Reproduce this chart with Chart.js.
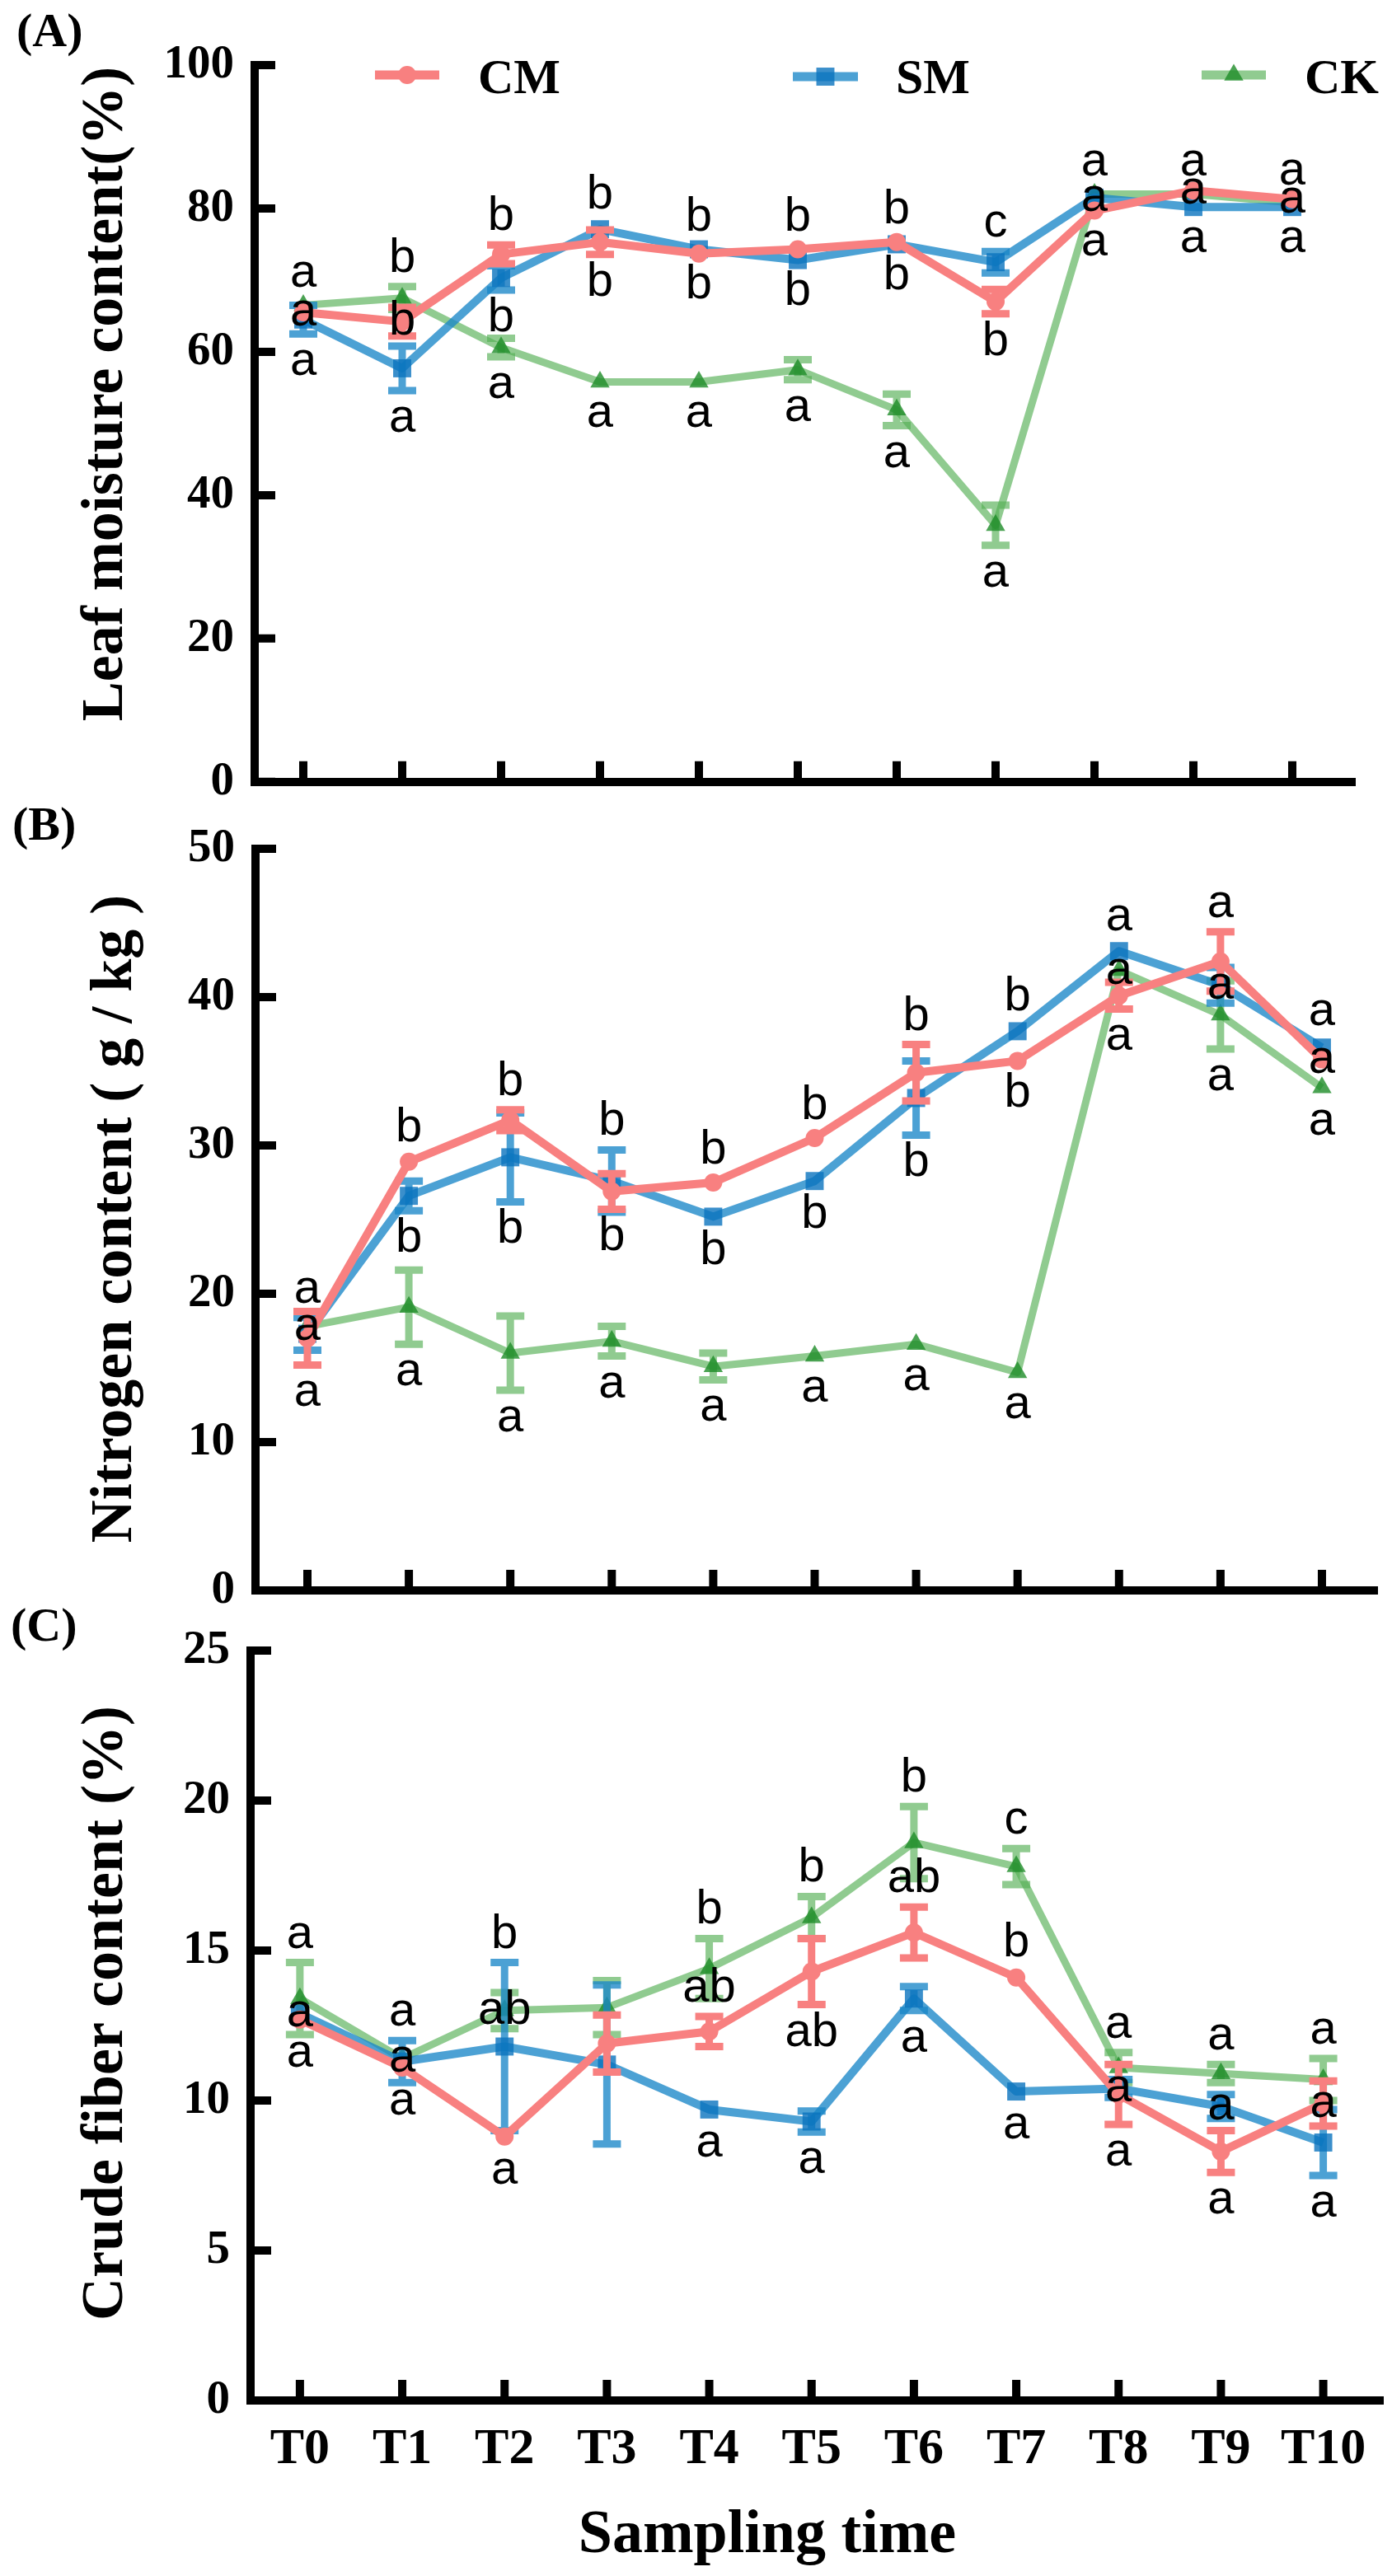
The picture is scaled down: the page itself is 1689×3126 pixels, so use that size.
<!DOCTYPE html>
<html>
<head>
<meta charset="utf-8">
<script src="https://cdn.jsdelivr.net/npm/chart.js@4/dist/chart.umd.min.js"></script>
<style>
  html, body { margin: 0; padding: 0; background: #fff; }
  #wrap { position: relative; width: 1689px; height: 3126px; background: #fff; overflow: hidden; }
  #wrap canvas { position: absolute; left: 0; }
</style>
</head>
<body>
<div id="wrap">
  <canvas id="chartA" width="1689" height="1000" style="top:0px;width:1689px;height:1000px"></canvas>
  <canvas id="chartB" width="1689" height="1030" style="top:960px;width:1689px;height:1030px"></canvas>
  <canvas id="chartC" width="1689" height="1186" style="top:1940px;width:1689px;height:1186px"></canvas>
</div>
<script>
const timePoints = ['T0', 'T1', 'T2', 'T3', 'T4', 'T5', 'T6', 'T7', 'T8', 'T9', 'T10'];
const groups = ['CM', 'SM', 'CK'];

// (A) leaf moisture content (%)
const moistureCM = [65.5, 64.2, 73.6, 75.3, 73.7, 74.3, 75.3, 67.0, 79.7, 82.5, 81.3];
const moistureSM = [64.5, 57.7, 70.3, 77.1, 74.3, 72.8, 75.0, 72.5, 81.5, 80.2, 80.2];
const moistureCK = [66.5, 67.5, 60.6, 55.8, 55.8, 57.5, 51.9, 35.8, 82.0, 82.0, 80.8];
const moistureErrCM = [0.8, 2.0, 1.3, 1.7, 0.5, 0.5, 0.5, 1.7, 0.5, 0.5, 0.5];
const moistureErrSM = [2.0, 3.1, 1.7, 0.8, 0.5, 0.5, 0.5, 1.5, 0.5, 0.5, 0.5];
const moistureErrCK = [0.5, 1.6, 1.3, 0.5, 0.5, 1.4, 2.2, 2.8, 0.5, 0.5, 0.5];
const moistureLetCM = ['a', 'b', 'b', 'b', 'b', 'b', 'b', 'b', 'a', 'a', 'a'];
const moistureLetSM = ['a', 'a', 'b', 'b', 'b', 'b', 'b', 'c', 'a', 'a', 'a'];
const moistureLetCK = ['a', 'b', 'a', 'a', 'a', 'a', 'a', 'a', 'a', 'a', 'a'];
const moistureSideCM = ['c', 'c', 'u', 'd', 'd', 'u', 'u', 'd', 'd', 'c', 'c'];
const moistureSideSM = ['d', 'd', 'd', 'u', 'u', 'd', 'd', 'u', 'c', 'd', 'd'];
const moistureSideCK = ['u', 'u', 'd', 'd', 'd', 'd', 'd', 'd', 'u', 'u', 'u'];

// (B) nitrogen content (g/kg)
const nitrogenCM = [17.0, 28.9, 31.7, 26.9, 27.5, 30.5, 34.9, 35.7, 40.1, 42.4, 35.8];
const nitrogenSM = [17.3, 26.6, 29.2, 27.6, 25.2, 27.6, 33.2, 37.7, 43.1, 40.8, 36.6];
const nitrogenCK = [17.8, 19.1, 16.0, 16.8, 15.1, 15.8, 16.6, 14.7, 41.8, 38.8, 33.9];
const nitrogenErrCM = [1.8, 0.4, 0.7, 1.2, 0.3, 0.3, 1.9, 0.3, 0.9, 2.0, 0.4];
const nitrogenErrSM = [1.1, 1.0, 3.0, 2.1, 0.4, 0.4, 2.5, 0.4, 0.4, 1.2, 0.5];
const nitrogenErrCK = [0.3, 2.5, 2.5, 1.0, 0.9, 0.3, 0.3, 0.3, 0.4, 2.3, 0.4];
const nitrogenLetCM = ['a', 'b', 'b', 'b', 'b', 'b', 'b', 'b', 'a', 'a', 'a'];
const nitrogenLetSM = ['a', 'b', 'b', 'b', 'b', 'b', 'b', 'b', 'a', 'a', 'a'];
const nitrogenLetCK = ['a', 'a', 'a', 'a', 'a', 'a', 'a', 'a', 'a', 'a', 'a'];
const nitrogenSideCM = ['d', 'u', 'u', 'd', 'u', 'u', 'u', 'd', 'd', 'u', 'c'];
const nitrogenSideSM = ['u', 'd', 'd', 'u', 'd', 'd', 'd', 'u', 'u', 'c', 'u'];
const nitrogenSideCK = ['c', 'd', 'd', 'd', 'd', 'd', 'd', 'd', 'c', 'd', 'd'];

// (C) crude fiber content (%)
const fiberCM = [12.7, 11.1, 8.8, 11.9, 12.3, 14.3, 15.6, 14.1, 10.2, 8.3, 9.9];
const fiberSM = [12.9, 11.3, 11.8, 11.2, 9.7, 9.3, 13.4, 10.3, 10.4, 9.8, 8.6];
const fiberCK = [13.4, 11.4, 13.0, 13.1, 14.4, 16.1, 18.6, 17.8, 11.1, 10.9, 10.7];
const fiberErrCM = [0.2, 0.2, 0.2, 0.95, 0.5, 1.1, 0.85, 0.2, 1.0, 0.7, 0.75];
const fiberErrSM = [0.2, 0.7, 2.8, 2.65, 0.2, 0.35, 0.4, 0.2, 0.3, 0.4, 1.1];
const fiberErrCK = [1.2, 0.2, 0.6, 0.9, 1.0, 0.7, 1.2, 0.6, 0.5, 0.3, 0.7];
const fiberLetCM = ['a', 'a', 'a', '', 'ab', 'ab', 'ab', 'b', 'a', 'a', 'a'];
const fiberLetSM = ['a', 'a', 'b', '', 'a', 'a', 'a', 'a', 'a', 'a', 'a'];
const fiberLetCK = ['a', 'a', 'ab', '', 'b', 'b', 'b', 'c', 'a', 'a', 'a'];
const fiberSideCM = ['d', 'd', 'd', 'd', 'u', 'd', 'u', 'u', 'd', 'd', 'c'];
const fiberSideSM = ['c', 'u', 'u', 'u', 'd', 'd', 'd', 'd', 'c', 'c', 'd'];
const fiberSideCK = ['u', 'c', 'c', 'u', 'u', 'u', 'u', 'u', 'u', 'u', 'u'];

const serif = 'Liberation Serif';
const sans = 'Liberation Sans';

const looks = [
  { line: 'rgb(248,128,128)', marker: 'rgb(248,128,128)', width: 10, point: 'circle', radius: 11 },
  { line: 'rgba(25,135,200,0.78)', marker: 'rgba(10,115,190,0.8)', width: 10, point: 'rect', radius: 15.5 },
  { line: 'rgba(85,175,85,0.65)', marker: 'rgba(30,140,40,0.8)', width: 9, point: 'triangle', radius: 13.5 }
];

const legendSpots = [
  { x1: 455, x2: 533, y: 91, tx: 580 },
  { x1: 962, x2: 1041, y: 93, tx: 1087 },
  { x1: 1458, x2: 1536, y: 91, tx: 1583 }
];

function marker(ctx, style, r, x, y) {
  ctx.beginPath();
  if (style === 'circle') {
    ctx.arc(x, y, r, 0, Math.PI * 2);
  } else if (style === 'rect') {
    const s = r * Math.SQRT1_2;
    ctx.rect(x - s, y - s, 2 * s, 2 * s);
  } else {
    for (let k = 0; k < 3; k++) {
      const a = k * 2 * Math.PI / 3;
      ctx.lineTo(x + Math.sin(a) * r, y - Math.cos(a) * r);
    }
    ctx.closePath();
  }
  ctx.fill();
}

const extras = {
  id: 'extras',
  beforeDatasetDraw(chart, args) {
    const ds = chart.data.datasets[args.index];
    const y = chart.scales.y;
    const ctx = chart.ctx;
    ctx.save();
    ctx.strokeStyle = ds.borderColor;
    ctx.lineWidth = 9;
    ctx.beginPath();
    args.meta.data.forEach((pt, i) => {
      const v = ds.data[i].y, e = ds.err[i];
      const yt = y.getPixelForValue(v + e), yb = y.getPixelForValue(v - e);
      if ((yb - yt) / 2 < 10) return; // hidden behind the symbol
      ctx.moveTo(pt.x, yt); ctx.lineTo(pt.x, yb);
      ctx.moveTo(pt.x - 17, yt); ctx.lineTo(pt.x + 17, yt);
      ctx.moveTo(pt.x - 17, yb); ctx.lineTo(pt.x + 17, yb);
    });
    ctx.stroke();
    ctx.restore();
  },
  afterDraw(chart, args, o) {
    const ctx = chart.ctx;
    const area = chart.chartArea;
    const xs = chart.scales.x, ys = chart.scales.y;
    ctx.save();
    // inward tick marks
    ctx.strokeStyle = '#000';
    ctx.lineWidth = 10;
    ctx.beginPath();
    ys.ticks.forEach(t => {
      const py = ys.getPixelForValue(t.value);
      ctx.moveTo(area.left, py); ctx.lineTo(area.left + 25, py);
    });
    xs.ticks.forEach(t => {
      const px = xs.getPixelForValue(t.value);
      ctx.moveTo(px, area.bottom); ctx.lineTo(px, area.bottom - 25);
    });
    ctx.stroke();

    // significance letters
    ctx.fillStyle = '#000';
    ctx.font = '58px "' + sans + '"';
    ctx.textAlign = 'center';
    ctx.textBaseline = 'middle';
    chart.data.datasets.forEach((ds, k) => {
      const meta = chart.getDatasetMeta(k);
      meta.data.forEach((pt, i) => {
        const txt = ds.letters[i];
        if (!txt) return;
        const v = ds.data[i].y, e = ds.err[i], side = ds.sides[i];
        let py = pt.y;
        if (side === 'u') py = ys.getPixelForValue(v + e) - 34;
        if (side === 'd') py = ys.getPixelForValue(v - e) + 34;
        ctx.fillText(txt, pt.x, py);
      });
    });

    // axis titles and panel tag
    ctx.font = 'bold 72px "' + serif + '"';
    ctx.textBaseline = 'alphabetic';
    ctx.save();
    ctx.translate(o.yTitle.x, o.yTitle.y);
    ctx.rotate(-Math.PI / 2);
    ctx.fillText(o.yTitle.text, 0, 0);
    ctx.restore();
    if (o.xTitle) {
      ctx.font = 'bold 74px "' + serif + '"';
      ctx.fillText(o.xTitle.text, o.xTitle.x, o.xTitle.y);
    }
    ctx.font = 'bold 58px "' + serif + '"';
    ctx.textAlign = 'left';
    ctx.fillText(o.tag.text, o.tag.x, o.tag.y);

    // legend
    if (o.legend) {
      chart.data.datasets.forEach((ds, k) => {
        const s = legendSpots[k];
        ctx.strokeStyle = ds.borderColor;
        ctx.lineWidth = 11;
        ctx.beginPath();
        ctx.moveTo(s.x1, s.y); ctx.lineTo(s.x2, s.y);
        ctx.stroke();
        ctx.fillStyle = ds.pointBackgroundColor;
        marker(ctx, ds.pointStyle, ds.pointRadius, (s.x1 + s.x2) / 2, s.y);
        ctx.fillStyle = '#000';
        ctx.font = 'bold 60px "' + serif + '"';
        ctx.fillText(ds.label, s.tx, 113);
      });
    }
    ctx.restore();
  }
};

function buildPanel(p) {
  const datasets = p.values.map((vals, k) => ({
    label: groups[k],
    data: vals.map((v, i) => ({ x: i, y: v })),
    err: p.errors[k],
    letters: p.letters[k],
    sides: p.sides[k],
    borderColor: looks[k].line,
    backgroundColor: looks[k].line,
    borderWidth: looks[k].width,
    borderJoinStyle: 'round',
    pointStyle: looks[k].point,
    pointRadius: looks[k].radius,
    pointHoverRadius: looks[k].radius,
    pointBackgroundColor: looks[k].marker,
    pointBorderWidth: 0,
    tension: 0,
    clip: false
  }));

  new Chart(document.getElementById(p.id), {
    type: 'line',
    data: { datasets },
    options: {
      responsive: false,
      animation: false,
      devicePixelRatio: 1,
      events: [],
      layout: { padding: p.pad },
      plugins: {
        legend: { display: false },
        tooltip: { enabled: false },
        extras: { yTitle: p.yTitle, xTitle: p.xTitle, tag: p.tag, legend: p.legend }
      },
      scales: {
        x: {
          type: 'linear',
          min: p.xMin,
          max: p.xMax,
          afterFit: s => { s.height = p.xHeight; },
          grid: { display: false, lineWidth: 10 },
          border: { display: true, width: 10, color: '#000' },
          ticks: {
            display: p.showX,
            stepSize: 1,
            includeBounds: false,
            autoSkip: false,
            maxRotation: 0,
            padding: 15,
            color: '#000',
            font: { family: serif, size: 62, weight: 'bold' },
            callback: v => timePoints[v]
          }
        },
        y: {
          min: 0,
          max: p.yMax,
          afterFit: s => { s.width = p.yWidth; },
          grid: { display: false, lineWidth: 10 },
          border: { display: true, width: 10, color: '#000' },
          ticks: {
            stepSize: p.yStep,
            padding: 17,
            color: '#000',
            font: { family: serif, size: 57, weight: 'bold' }
          }
        }
      }
    },
    plugins: [extras]
  });
}

buildPanel({
  id: 'chartA',
  values: [moistureCM, moistureSM, moistureCK],
  errors: [moistureErrCM, moistureErrSM, moistureErrCK],
  letters: [moistureLetCM, moistureLetSM, moistureLetCK],
  sides: [moistureSideCM, moistureSideSM, moistureSideCK],
  yMax: 100, yStep: 20, yWidth: 309,
  pad: { left: 0, top: 79, right: 49, bottom: 23 }, xHeight: 20,
  xMin: -0.4917, xMax: 10.6, showX: false,
  yTitle: { text: 'Leaf moisture content(%)', x: 148, y: 478 },
  tag: { text: '(A)', x: 20, y: 56 },
  legend: true
});

buildPanel({
  id: 'chartB',
  values: [nitrogenCM, nitrogenSM, nitrogenCK],
  errors: [nitrogenErrCM, nitrogenErrSM, nitrogenErrCK],
  letters: [nitrogenLetCM, nitrogenLetSM, nitrogenLetCK],
  sides: [nitrogenSideCM, nitrogenSideSM, nitrogenSideCK],
  yMax: 50, yStep: 10, yWidth: 310,
  pad: { left: 0, top: 70, right: 22, bottom: 40 }, xHeight: 20,
  xMin: -0.5118, xMax: 10.512, showX: false,
  yTitle: { text: 'Nitrogen content ( g / kg )', x: 159, y: 519 },
  tag: { text: '(B)', x: 15, y: 59 },
  legend: false
});

buildPanel({
  id: 'chartC',
  values: [fiberCM, fiberSM, fiberCK],
  errors: [fiberErrCM, fiberErrSM, fiberErrCK],
  letters: [fiberLetCM, fiberLetSM, fiberLetCK],
  sides: [fiberSideCM, fiberSideSM, fiberSideCK],
  yMax: 25, yStep: 5, yWidth: 304,
  pad: { left: 0, top: 63, right: 13, bottom: 0 }, xHeight: 213,
  xMin: -0.4823, xMax: 10.547, showX: true,
  yTitle: { text: 'Crude fiber content (%)', x: 148, y: 503 },
  xTitle: { text: 'Sampling time', x: 931, y: 1157 },
  tag: { text: '(C)', x: 13, y: 51 },
  legend: false
});
</script>
</body>
</html>
